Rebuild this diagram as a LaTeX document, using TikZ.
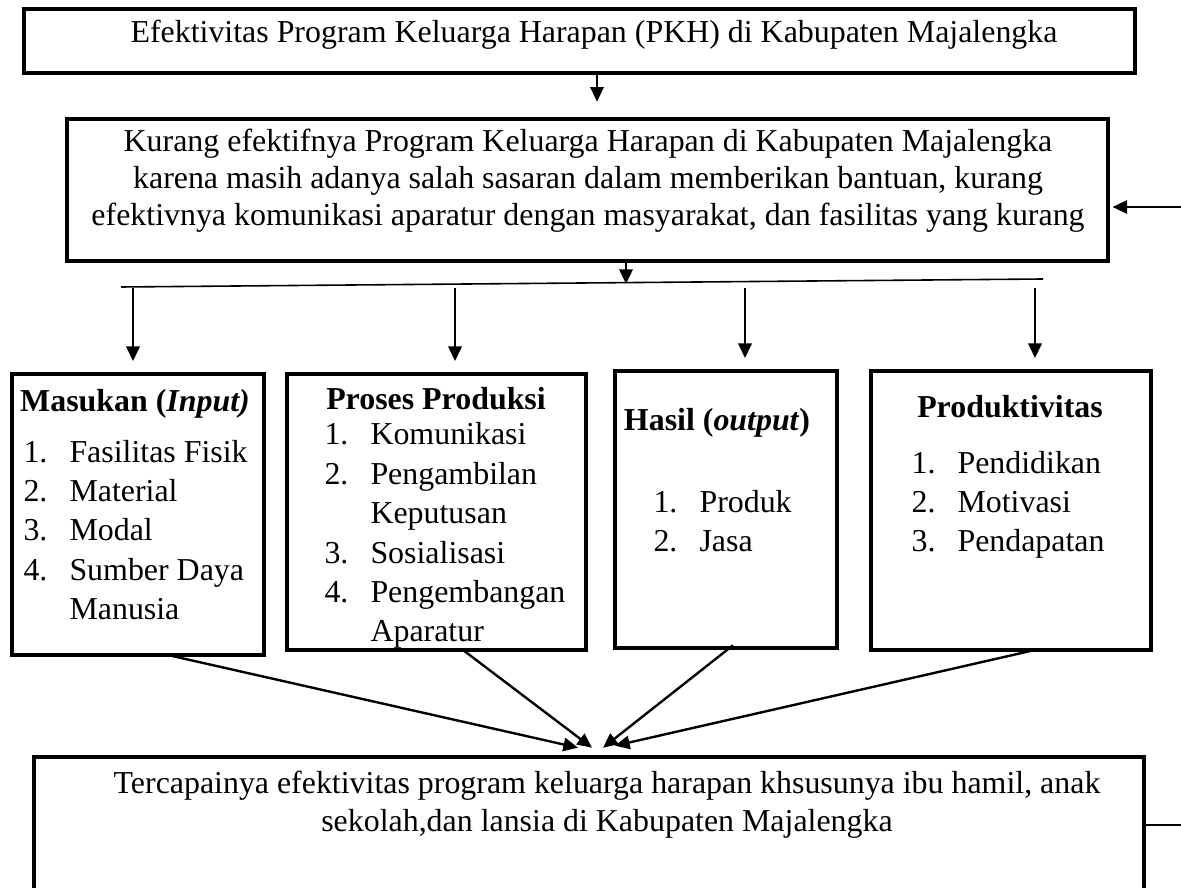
\documentclass[tikz,border=0pt]{standalone}
\usepackage{fontspec}
\setmainfont{Liberation Serif}
\usetikzlibrary{arrows.meta,calc,fit}

\begin{document}
\begin{tikzpicture}[x=0.1322cm,y=0.1322cm]
\tikzstyle{every node}+=[inner sep=0pt, font=\fontsize{12}{14.8}\selectfont]
\tikzstyle{kotak}=[draw, black, line width=1.7pt]
\tikzstyle{panah}=[black, line width=0.9pt, -{Triangle[length=5.5pt,width=5pt]}]
\path [use as bounding box] (0,0) rectangle (118.1,-88.8);
\clip (0,0) rectangle (118.1,-88.8);
% judul
\node [kotak, fit={(2.4,-0.9) (113.5,-7.3)}] (judul) {};
\node [anchor=base] (tjudul) at (59.4,-4.3) {Efektivitas Program Keluarga Harapan (PKH) di Kabupaten Majalengka};
% masalah
\node [kotak, fit={(6.7,-11.9) (110.8,-26.1)}] (masalah) {};
\node [align=center, font=\fontsize{12}{14}\selectfont] (tmasalah) at (58.8,-18.05) {Kurang efektifnya Program Keluarga Harapan di Kabupaten Majalengka\\ karena masih adanya salah sasaran dalam memberikan bantuan, kurang\\ efektivnya komunikasi aparatur dengan masyarakat, dan fasilitas yang kurang};
% empat kotak
\node [kotak, fit={(1.2,-37.4) (26.4,-65.5)}] (masukan) {};
\node [anchor=base] (jmasukan) at (13.5,-41.2) {\textbf{Masukan (\textit{Input)}}};
\node [anchor=base west] (tmasukan) at (2.3,-46.2) {\begin{tabular}[t]{@{}p{17.3pt}@{}l@{}}1.&Fasilitas Fisik\\2.&Material\\3.&Modal\\4.&Sumber Daya\\&Manusia\end{tabular}};
\node [kotak, fit={(28.7,-37.4) (58.6,-65.0)}] (proses) {};
\node [anchor=base] (jproses) at (43.6,-41.0) {\textbf{Proses Produksi}};
\node [anchor=base west] (tproses) at (32.4,-44.5) {\begin{tabular}[t]{@{}p{17.3pt}@{}l@{}}1.&Komunikasi\\2.&Pengambilan\\&Keputusan\\3.&Sosialisasi\\4.&Pengembangan\\&Aparatur\end{tabular}};
\node [kotak, fit={(61.5,-37.1) (83.7,-64.8)}] (hasil) {};
\node [anchor=base] (jhasil) at (71.7,-43.0) {\textbf{Hasil (\textit{output})}};
\node [anchor=base west] (thasil) at (65.3,-51.2) {\begin{tabular}[t]{@{}p{17.3pt}@{}l@{}}1.&Produk\\2.&Jasa\end{tabular}};
\node [kotak, fit={(87.1,-37.1) (115.1,-65.0)}] (produktivitas) {};
\node [anchor=base] (jproduktivitas) at (101.0,-41.8) {\textbf{Produktivitas}};
\node [anchor=base west] (tproduktivitas) at (91.1,-47.3) {\begin{tabular}[t]{@{}p{17.3pt}@{}l@{}}1.&Pendidikan\\2.&Motivasi\\3.&Pendapatan\end{tabular}};
% tujuan
\node [kotak, fit={(3.4,-75.7) (114.4,-92.0)}] (tujuan) {};
\node [align=center, font=\fontsize{12}{14.3}\selectfont] (ttujuan) at (60.7,-80.5) {Tercapainya efektivitas program keluarga harapan khsusunya ibu hamil, anak\\ sekolah,dan lansia di Kabupaten Majalengka};
% panah
\coordinate (atas) at (59.7,-7.3);
\draw [panah] (atas) -- ($(atas |- masalah.north)+(0,1.5)$);
\coordinate (kanan) at (118.1,-20.7);
\draw [panah, shorten >=0.85pt] (kanan) -- (kanan -| masalah.east);
\coordinate (cabangkiri) at (12.1,-28.7);
\coordinate (cabangkanan) at (104.3,-27.9);
\coordinate (cabang) at (62.6,-28.4);
\draw [black, line width=0.6pt] (cabangkiri) -- (cabangkanan);
\draw [panah] (cabang |- masalah.south) -- (cabang);
\coordinate (a1) at (13.3,-28.8);
\coordinate (a2) at (45.5,-28.8);
\coordinate (a3) at (74.5,-28.8);
\coordinate (a4) at (103.5,-28.8);
\draw [panah, shorten >=4pt] (a1) -- (a1 |- masukan.north);
\draw [panah, shorten >=4pt] (a2) -- (a2 |- proses.north);
\draw [panah, shorten >=4pt] (a3) -- (a3 |- hasil.north);
\draw [panah, shorten >=4pt] (a4) -- (a4 |- produktivitas.north);
\draw [panah] ($(masukan.south)+(3.1,0.2)$) -- ($(tujuan.north)+(-1.1,0.7)$);
\draw [panah] ($(proses.south)+(2.55,0.3)$) -- ($(tujuan.north)+(0.3,0.7)$);
\draw [panah] ($(hasil.south)+(0.7,0.5)$) -- ($(tujuan.north)+(1.4,0.7)$);
\draw [panah] ($(produktivitas.south)+(2.7,0.3)$) -- ($(tujuan.north)+(2.6,0.9)$);
\coordinate (kananbawah) at (118.1,-82.5);
\draw [black, line width=0.5pt] (kananbawah -| tujuan.east) -- (kananbawah);
\end{tikzpicture}
\end{document}
